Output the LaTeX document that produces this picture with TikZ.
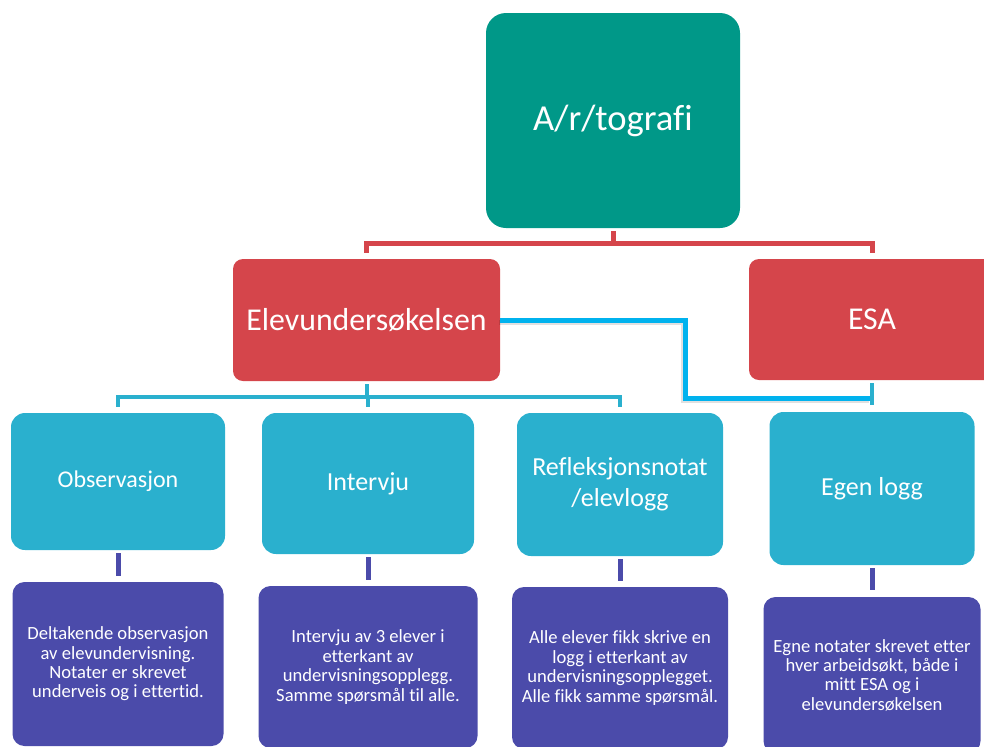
\documentclass[tikz,border=0pt]{standalone}
\usepackage{fontspec}
\setmainfont{Carlito}[Ligatures={NoCommon}]
\definecolor{artgreen}{RGB}{0,152,136}
\definecolor{esared}{RGB}{213,69,75}
\definecolor{methblue}{RGB}{42,176,206}
\definecolor{notepurple}{RGB}{75,75,170}
\definecolor{linkblue}{RGB}{0,178,238}
\begin{document}
\begin{tikzpicture}[x=0.5pt, y=-0.5pt,
    box/.style={inner sep=0pt, text=white, align=center},
    lvlone/.style={box, fill=artgreen, rounded corners=10pt, font=\fontsize{18.3}{22}\selectfont},
    lvltwo/.style={box, fill=esared, rounded corners=5pt, font=\fontsize{15.9}{19}\selectfont},
    lvlthree/.style={box, fill=methblue, rounded corners=7pt, font=\fontsize{13}{15.5}\selectfont},
    lvlfour/.style={box, fill=notepurple, rounded corners=6pt, font=\fontsize{9.3}{9.7}\selectfont},
    redlink/.style={draw=esared, line width=2.5pt, shorten <=1.5pt, shorten >=3pt},
    bluelink/.style={draw=methblue, line width=2pt, shorten <=1.5pt, shorten >=3pt},
    purplelink/.style={draw=notepurple, line width=2.5pt, shorten <=1.5pt, shorten >=3pt},
    crosslink/.style={draw=linkblue, line width=2.5pt,
      preaction={draw=black, opacity=0.12, line width=2.8pt, transform canvas={shift={(-0.7pt,-1.2pt)}}}}]
  \path[use as bounding box, clip] (0,0) rectangle (984,746);

  \node[lvlone, minimum width=127pt, minimum height=107.5pt] (art) at (613,120.5) {A/r/tografi};

  \node[lvltwo, minimum width=133.5pt, minimum height=61pt] (elev) at (366.5,320) {Elevundersøkelsen};
  \node[lvltwo, minimum width=123pt, minimum height=60.5pt] (esa) at (872,319.5) {ESA};

  \node[lvlthree, minimum width=107pt, minimum height=68.5pt, font=\fontsize{12}{14}\selectfont] (obs) at (118,481.5) {Observasjon};
  \node[lvlthree, minimum width=106pt, minimum height=70.5pt] (intv) at (368,483.5) {Intervju};
  \node[lvlthree, minimum width=103pt, minimum height=71.5pt] (refl) at (620,484.5) {Refleksjonsnotat\\/elevlogg};
  \node[lvlthree, minimum width=102.5pt, minimum height=76.5pt] (egen) at (872,488.5) {Egen logg};

  \node[lvlfour, minimum width=105.5pt, minimum height=82pt] (obsd) at (118,664) {Deltakende observasjon\\av elevundervisning.\\Notater er skrevet\\underveis og i ettertid.};
  \node[lvlfour, minimum width=109.5pt, minimum height=81pt] (intvd) at (368,667) {Intervju av 3 elever i\\etterkant av\\undervisningsopplegg.\\Samme spørsmål til alle.};
  \node[lvlfour, minimum width=108pt, minimum height=81pt] (refld) at (620,668) {Alle elever fikk skrive en\\logg i etterkant av\\undervisningsopplegget.\\Alle fikk samme spørsmål.};
  \node[lvlfour, minimum width=108.5pt, minimum height=78pt] (egend) at (872,675) {Egne notater skrevet etter\\hver arbeidsøkt, både i\\mitt ESA og i\\elevundersøkelsen};

  \draw[redlink] (art.south) -- ++(0,15) -| (elev.north);
  \draw[redlink] (art.south) -- ++(0,15) -| (esa.north);

  \draw[bluelink] (elev.south) -- ++(0,16) -| (obs.north);
  \draw[bluelink] (elev.south) -- ++(0,16) -| (intv.north);
  \draw[bluelink] (elev.south) -- ++(0,16) -| (refl.north);
  \draw[bluelink, shorten >=3.5pt] (esa.south) -- (egen.north);

  \coordinate (kink) at (685,398);
  \coordinate (meet) at (870,398);
  \draw[crosslink] (elev.east) -| (kink) -- (meet);

  \draw[purplelink] (obs.south) -- (obsd.north);
  \draw[purplelink] (intv.south) -- (intvd.north);
  \draw[purplelink] (refl.south) -- (refld.north);
  \draw[purplelink, shorten >=3.5pt] (egen.south) -- (egend.north);
\end{tikzpicture}
\end{document}
